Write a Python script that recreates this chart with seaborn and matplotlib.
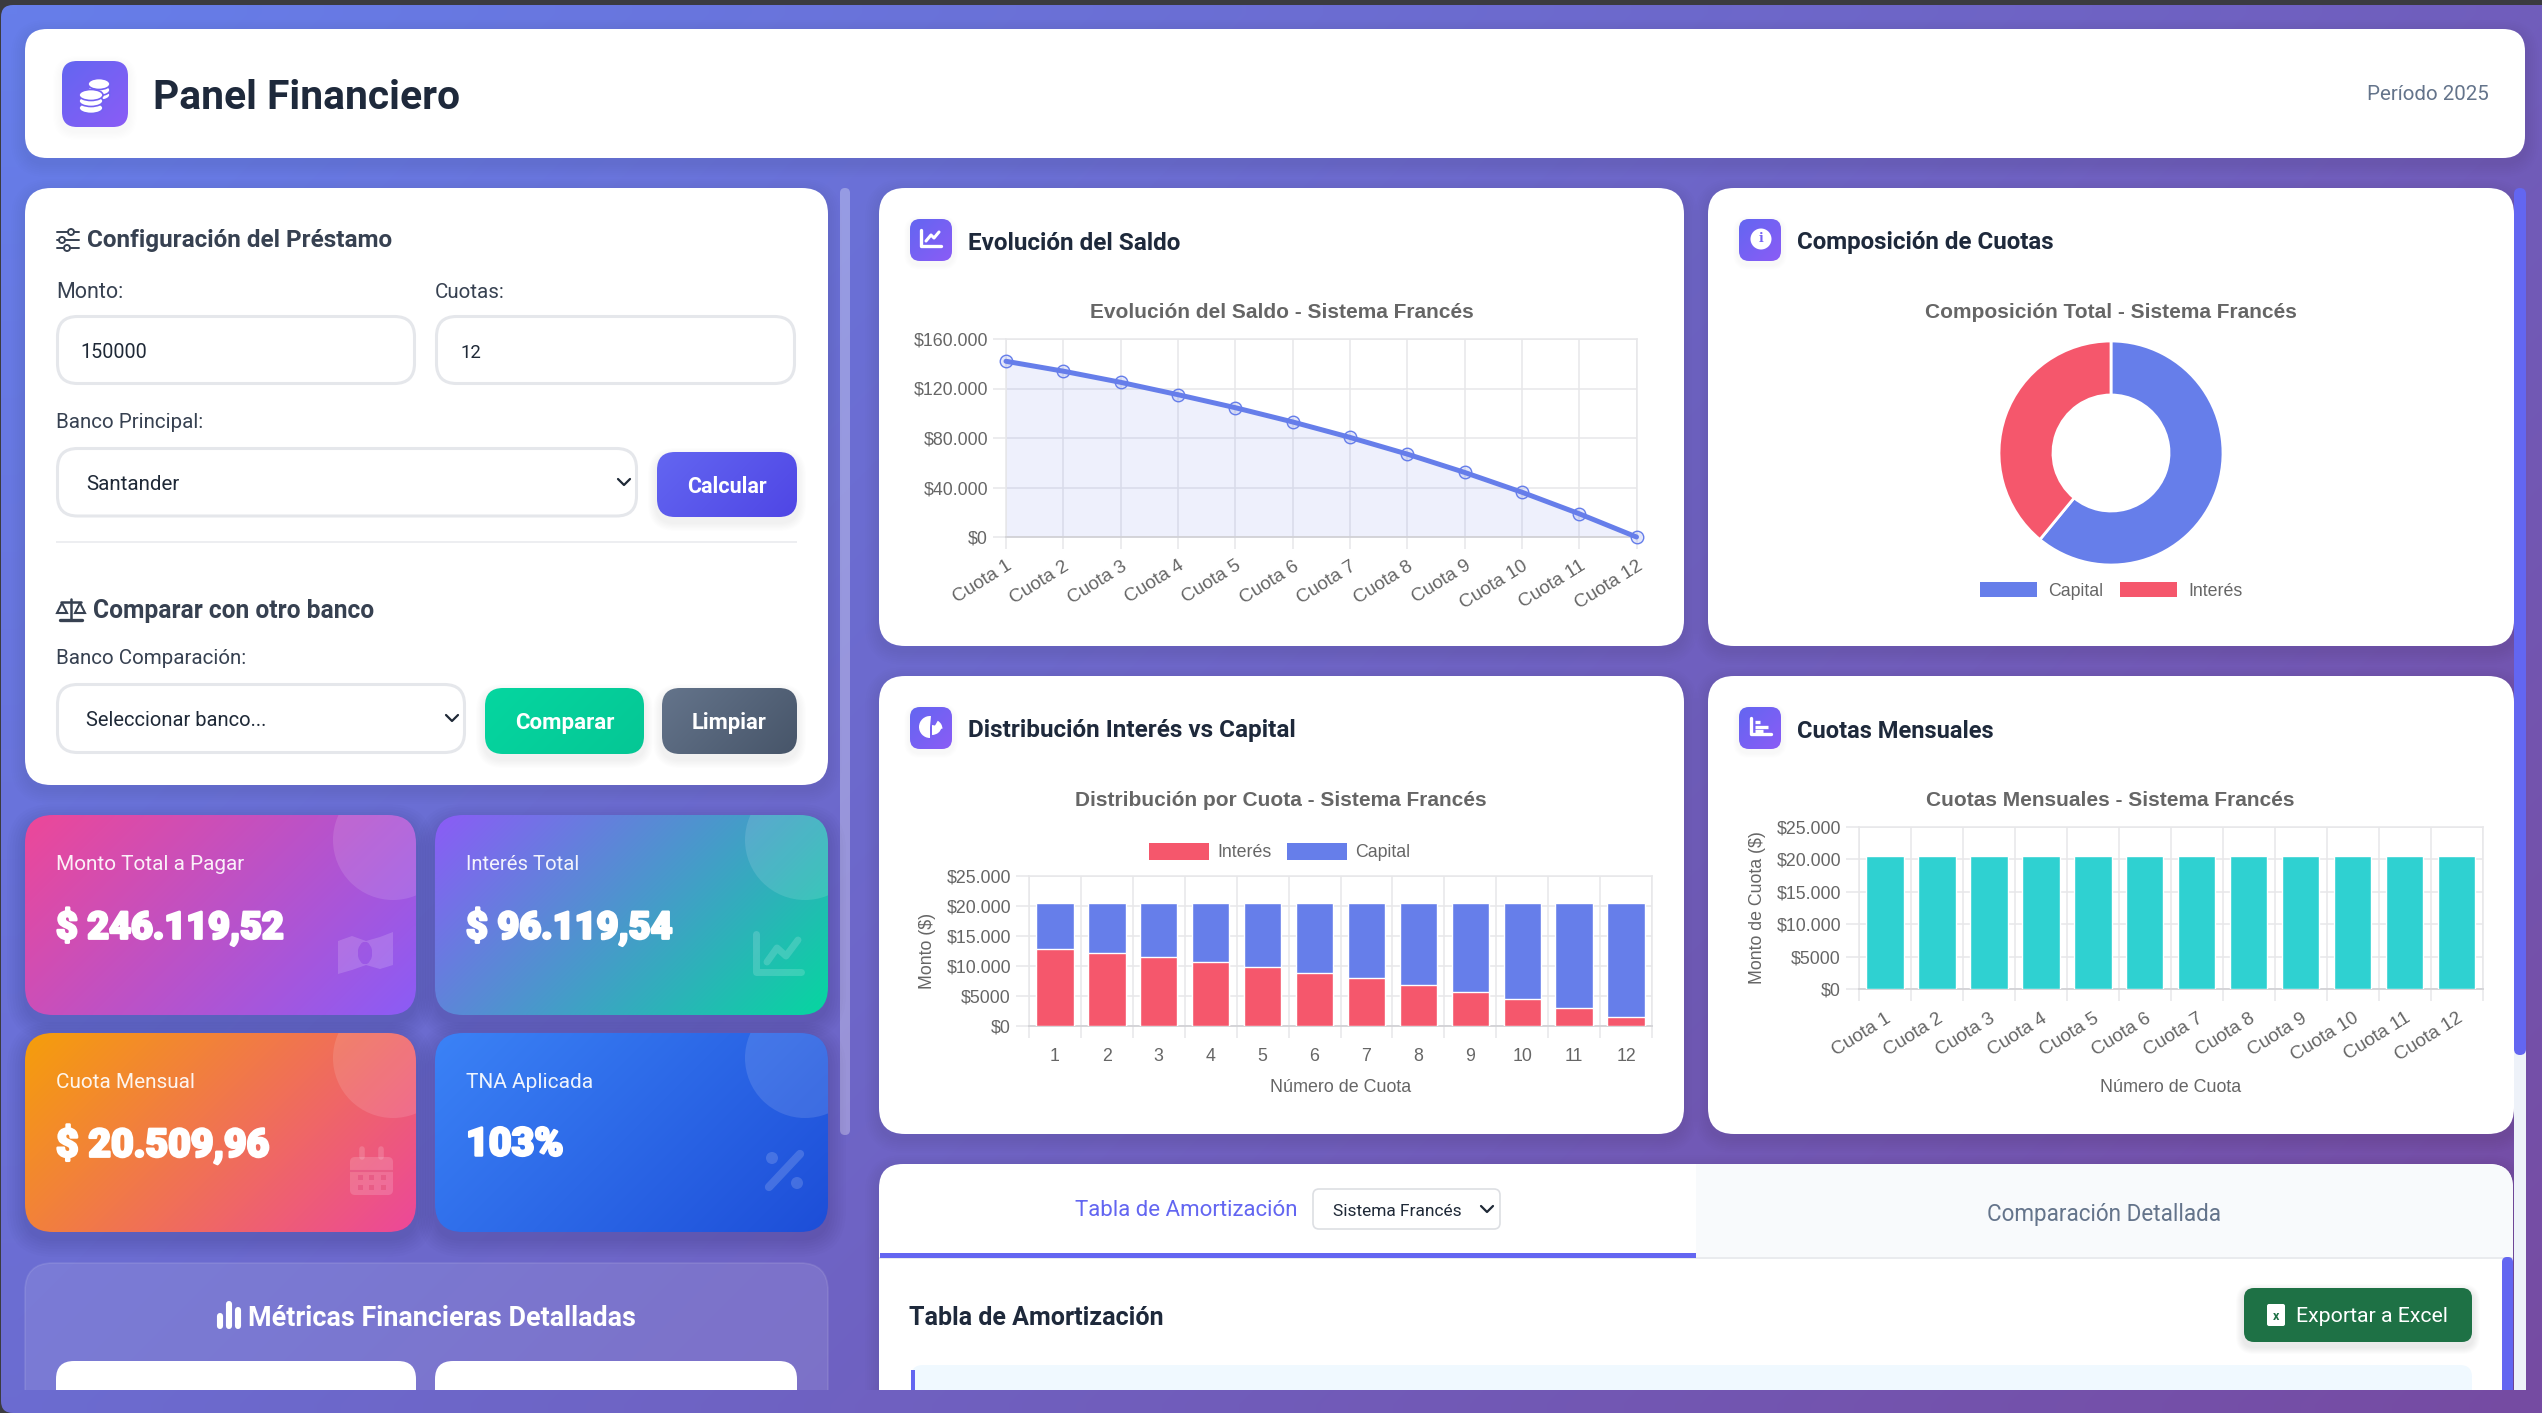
import itertools

import matplotlib
matplotlib.use("Agg")
import matplotlib.pyplot as plt
import matplotlib.patheffects as pe
import numpy as np
import pandas as pd
import seaborn as sns
from matplotlib.patches import Circle, Ellipse, FancyBboxPatch, PathPatch, Patch, Polygon, Rectangle, Wedge
from matplotlib.path import Path

# =========================
# DATA
# =========================
cuotas = ["Cuota %d" % i for i in range(1, 13)]
numeros = [str(i) for i in range(1, 13)]
saldo = [142000, 134000, 125000, 115000, 104500, 93000, 80500, 67000, 52200, 36200, 18800, 0]
interes = [12780, 12110, 11450, 10620, 9790, 8900, 7960, 6800, 5700, 4420, 2990, 1490]
capital = [7730, 8400, 9060, 9890, 10720, 11610, 12550, 13710, 14810, 16090, 17520, 19020]
cuota_mensual = [20510] * 12
composicion_labels = ["Capital", "Interés"]
composicion = [150000, 96119.54]

saldo_ticks = [0, 40000, 80000, 120000, 160000]
saldo_tick_labels = ["$0", "$40.000", "$80.000", "$120.000", "$160.000"]
monto_ticks = [0, 5000, 10000, 15000, 20000, 25000]
monto_tick_labels = ["$0", "$5000", "$10.000", "$15.000", "$20.000", "$25.000"]

AZUL = "#667eea"
ROJO = "#f5576c"
TURQUESA = "#2fd1d1"
GRID = "#e7e7e9"
ZERO = "#d2d2d6"
GRIS = "#666666"
UI = "Roboto"
CHART = "Liberation Sans"

W, H = 2542, 1413
CLIP_Y = 1390

sns.set_theme(style="white")
fig = plt.figure(figsize=(W / 100, H / 100), dpi=100, facecolor="#3b3b40")
canvas = fig.add_axes([0, 0, 1, 1], zorder=0)
canvas.set_xlim(0, W)
canvas.set_ylim(H, 0)
canvas.axis("off")
canvas.autoscale(False)
renderer = fig.canvas.get_renderer()
order = itertools.count(1)
clip_rect = Rectangle((0, 0), W, CLIP_Y, transform=canvas.transData)


def add(patch, clip=False):
    patch.set_zorder(next(order))
    canvas.add_patch(patch)
    if clip:
        patch.set_clip_path(clip_rect)
    return patch


def box(x0, y0, x1, y1, r, fc="white", ec="none", lw=0, clip=False):
    return add(FancyBboxPatch((x0, y0), x1 - x0, y1 - y0, boxstyle="round,pad=0,rounding_size=%s" % r,
                              fc=fc, ec=ec, lw=lw), clip)


def shadow(x0, y0, x1, y1, r, dy=5, spread=14, alpha=0.012, clip=False):
    for g in np.linspace(spread, 2, 7):
        box(x0 - g, y0 - g + dy, x1 + g, y1 + g + dy, r + g, fc=(0, 0, 0, alpha), clip=clip)


def grad_box(x0, y0, x1, y1, r, c0, c1):
    frame = box(x0, y0, x1, y1, r, fc="none")
    w, h = x1 - x0, y1 - y0
    xx, yy = np.meshgrid(np.linspace(0, w, 80), np.linspace(0, h, 80))
    t = (xx + yy) / (w + h)
    a, b = np.array(matplotlib.colors.to_rgb(c0)), np.array(matplotlib.colors.to_rgb(c1))
    img = a[None, None, :] * (1 - t[..., None]) + b[None, None, :] * t[..., None]
    im = canvas.imshow(img, extent=(x0, x1, y1, y0), origin="upper", aspect="auto",
                       interpolation="bilinear", zorder=next(order))
    im.set_clip_path(frame)
    canvas.set_xlim(0, W)
    canvas.set_ylim(H, 0)
    return im


def fit(t, width):
    t.set_fontsize(t.get_fontsize() * width / t.get_window_extent(renderer).width)
    return t


def put(x, y, s, x1=None, color="#1f2937", weight="normal", family=UI, ha="left", size=14, **kw):
    t = canvas.text(x, y + 4, s, color=color, fontweight=weight, family=family, ha=ha, va="center",
                    fontsize=size, zorder=100000, **kw)
    if x1 is not None:
        fit(t, x1 - x)
    return t


def centered(x0, x1, y, s, width, **kw):
    t = put((x0 + x1) / 2, y, s, ha="center", **kw)
    return fit(t, width)


def stroke(xs, ys, color="white", lw=2.0, alpha=1.0, cap="round"):
    canvas.plot(xs, ys, color=color, lw=lw, alpha=alpha, solid_capstyle=cap, solid_joinstyle="round",
                zorder=next(order))


def chevron(x, y, color="#1f2937"):
    stroke([x - 6, x, x + 6], [y - 3, y + 3, y - 3], color=color, lw=1.6)


def icon_box(x0, y0):
    shadow(x0, y0, x0 + 42, y0 + 42, 10, dy=3, spread=6, alpha=0.004)
    grad_box(x0, y0, x0 + 42, y0 + 42, 10, "#6366f1", "#8b5cf6")


# =========================
# PAGE
# =========================
grad_box(1, 5, W + 20, H, 12, "#667eea", "#764ba2")

# header
shadow(25, 29, 2525, 158, 22, alpha=0.008)
box(25, 29, 2525, 158, 22)
shadow(62, 61, 128, 127, 15, dy=4, spread=9, alpha=0.004)
grad_box(62, 61, 128, 127, 15, "#6366f1", "#8b5cf6")
for cx, ys, hw in [(99, (95, 90, 84), 11), (91, (108, 101, 95), 12)]:
    for y in ys:
        add(Ellipse((cx, y), hw * 2, 11, fc="white", ec="#7461f3", lw=1.2))
put(153, 94, "Panel Financiero", x1=460, color="#1e293b", weight="bold")
put(2489, 91, "Período 2025", color="#64748b", ha="right", size=15)
fit(canvas.texts[-1], 122)

# config card
shadow(25, 188, 828, 785, 26, alpha=0.008)
box(25, 188, 828, 785, 26)
for y, cx in [(232, 71), (240, 62), (248, 67)]:
    stroke([57, 79], [y, y], color="#374151", lw=1.4)
    add(Circle((cx, y), 3, fc="white", ec="#374151", lw=1.4))
put(87, 237, "Configuración del Préstamo", x1=393, color="#374151", weight="bold")

put(56, 288, "Monto:", x1=124, color="#374151")
put(435, 288, "Cuotas:", x1=505, color="#374151")
box(57.5, 316.5, 414.5, 383.5, 20, ec="#e5e7eb", lw=2.2)
box(436.5, 316.5, 794.5, 383.5, 20, ec="#e5e7eb", lw=2.2)
put(80, 349, "150000", x1=147, color="#1f2937")
put(460, 349, "12", x1=481, color="#1f2937")

put(56, 418, "Banco Principal:", x1=204, color="#374151")
box(57.5, 448.5, 636.5, 516, 20, ec="#e5e7eb", lw=2.2)
put(86, 481, "Santander", x1=180, color="#1f2937")
chevron(624, 482)
shadow(657, 452, 797, 517, 18, dy=5, spread=9, alpha=0.006)
grad_box(657, 452, 797, 517, 18, "#6366f1", "#4f46e5")
centered(657, 797, 483, "Calcular", 80, color="white", weight="bold")

stroke([56, 797], [542, 542], color="#e8eaee", lw=1.1, cap="butt")

# scale icon
stroke([71, 71], [599, 619], color="#374151", lw=1.8)
stroke([61, 81], [602, 602], color="#374151", lw=1.8)
stroke([60, 82], [620, 620], color="#374151", lw=2.4)
add(Polygon([[62, 603], [57, 613], [67, 613]], closed=True, fc="none", ec="#374151", lw=1.5))
add(Polygon([[80, 603], [75, 613], [85, 613]], closed=True, fc="none", ec="#374151", lw=1.5))
put(93, 607, "Comparar con otro banco", x1=375, color="#374151", weight="bold")

put(56, 655, "Banco Comparación:", x1=248, color="#374151")
box(57.5, 684.5, 464.5, 752.5, 20, ec="#e5e7eb", lw=2.2)
put(86, 717, "Seleccionar banco...", x1=268, color="#1f2937")
chevron(452, 718)
shadow(485, 688, 644, 754, 18, dy=5, spread=9, alpha=0.006)
grad_box(485, 688, 644, 754, 18, "#06d6a0", "#05c795")
centered(485, 644, 719, "Comparar", 99, color="white", weight="bold")
shadow(662, 688, 797, 754, 18, dy=5, spread=9, alpha=0.006)
grad_box(662, 688, 797, 754, 18, "#64748b", "#475569")
centered(662, 797, 719, "Limpiar", 75, color="white", weight="bold")

box(840, 188, 850, 1135, 5, fc=(1, 1, 1, 0.3))

# stat cards
tarjetas = [
    (25, 815, 416, 1015, "#ec4899", "#8b5cf6", "Monto Total a Pagar", 245, "$ 246.119,52", 284),
    (435, 815, 828, 1015, "#8b5cf6", "#06d6a0", "Interés Total", 580, "$ 96.119,54", 673),
    (25, 1033, 416, 1232, "#f59e0b", "#ec4899", "Cuota Mensual", 196, "$ 20.509,96", 270),
    (435, 1033, 828, 1232, "#3b82f6", "#1d4ed8", "TNA Aplicada", 593, "103%", 564),
]
for x0, y0, x1, y1, c0, c1, nombre, nombre_x1, valor, valor_x1 in tarjetas:
    shadow(x0, y0, x1, y1, 28, dy=7, spread=18, alpha=0.012)
    fondo = grad_box(x0, y0, x1, y1, 28, c0, c1)
    blob = add(Circle((x1 - 23, y0 + 25), 60, fc=(1, 1, 1, 0.12), ec="none"))
    blob.set_clip_path(fondo.get_clip_path(), matplotlib.transforms.IdentityTransform())
    put(x0 + 31, y0 + 46, nombre, x1=nombre_x1, color=(1, 1, 1, 0.92))
    put(x0 + 31, y0 + 108, valor, x1=valor_x1, color="white", weight="black",
        path_effects=[pe.withStroke(linewidth=1.8, foreground="white")])

FAINT = (1, 1, 1, 0.16)
# money icon
billete = np.array([[338, 941], [352, 936], [366, 941], [380, 937], [393, 932], [393, 965],
                    [380, 969], [366, 965], [352, 970], [338, 974], [338, 941]], float)
agujero = Path.unit_circle().transformed(
    matplotlib.transforms.Affine2D().scale(7, 11).translate(365, 953)).vertices[::-1]
add(PathPatch(Path.make_compound_path(Path(billete, closed=True), Path(agujero, closed=True)), fc=FAINT, ec="none"))
# chart icon
stroke([756, 756, 801], [934, 972, 972], color="white", lw=5, alpha=0.16)
stroke([767, 777, 786, 798], [962, 948, 956, 940], color="white", lw=5, alpha=0.16)
# calendar icon
box(350, 1157, 393, 1195, 5, fc=FAINT)
stroke([350, 393], [1171, 1171], color="#e85c86", lw=1.5, cap="butt")
stroke([362, 362], [1149, 1157], color="white", lw=4, alpha=0.16)
stroke([381, 381], [1149, 1157], color="white", lw=4, alpha=0.16)
for cx in (360, 371.5, 383):
    for cy in (1177, 1187):
        add(Rectangle((cx - 2.5, cy - 2.5), 5, 5, fc="#e85c86", ec="none"))
# percent icon
stroke([769, 800], [1187, 1154], color="white", lw=6, alpha=0.16)
add(Circle((772, 1158), 6, fc=FAINT, ec="none"))
add(Circle((797, 1183), 6, fc=FAINT, ec="none"))

# metrics panel
box(25, 1263, 828, CLIP_Y + 40, 28, fc=(1, 1, 1, 0.1), ec=(1, 1, 1, 0.1), lw=1.2, clip=True)
for i, cx in enumerate((220, 229, 238)):
    altura = [1316, 1304, 1310][i]
    stroke([cx, cx], [altura, 1326], color="white", lw=4.4)
put(248, 1314, "Métricas Financieras Detalladas", x1=636, color="white", weight="bold")
box(56, 1361, 416, CLIP_Y + 30, 18, clip=True)
box(435, 1361, 797, CLIP_Y + 30, 18, clip=True)

# white chart cards
tarjetas_chart = [
    (879, 188, 1684, 646, 910, 219, "Evolución del Saldo", 968, 1182, 239),
    (1708, 188, 2514, 646, 1739, 219, "Composición de Cuotas", 1797, 2056, 239),
    (879, 676, 1684, 1134, 910, 707, "Distribución Interés vs Capital", 968, 1296, 727),
    (1708, 676, 2514, 1134, 1739, 707, "Cuotas Mensuales", 1797, 1995, 727),
]
for x0, y0, x1, y1, ix, iy, titulo, tx0, tx1, ty in tarjetas_chart:
    shadow(x0, y0, x1, y1, 26, alpha=0.008)
    box(x0, y0, x1, y1, 26)
    icon_box(ix, iy)
    put(tx0, ty, titulo, x1=tx1, color="#1e293b", weight="bold")

# header icons of cards
stroke([921, 921, 941], [230, 246, 246], lw=2.4)
stroke([926, 931, 934, 939], [241, 235, 238, 232], lw=2.2)
add(Circle((1761, 239), 10.5, fc="white", ec="none"))
put(1761, 235, "i", color="#7461f3", weight="bold", ha="center", size=9, family="DejaVu Serif")
add(Wedge((930, 727), 11, 90, 275, fc="white", ec="none"))
add(Wedge((932, 725), 10, 10, 90, fc="white", ec="none"))
add(Wedge((933, 729), 9.5, 300, 358, fc="white", ec="none"))
stroke([1751, 1751, 1771], [718, 734, 734], lw=2.4)
for y, fin in [(722, 1760), (726.5, 1768), (731, 1763)]:
    stroke([1755, fin], [y, y], lw=2.4, cap="butt")

# bottom panel
shadow(879, 1164, 2513, 1440, 24, alpha=0.008, clip=True)
panel = box(879, 1164, 2513, 1440, 24, clip=True)
tab = add(Rectangle((1696, 1164), 817, 93, fc="#f8fafc", ec="none"))
tab.set_clip_path(panel.get_path(), panel.get_transform())
stroke([879, 2513], [1258, 1258], color="#e5e7eb", lw=1.2, cap="butt")
add(Rectangle((880, 1253), 816, 4.5, fc="#6366f1", ec="none"))
put(1075, 1207, "Tabla de Amortización", x1=1299, color="#6366f1")
box(1313, 1189, 1500, 1229, 6, ec="#dddfe3", lw=1.2)
put(1333, 1207, "Sistema Francés", x1=1463, color="#1f2937")
chevron(1487, 1209)
put(1987, 1210, "Comparación Detallada", x1=2223, color="#64748b")
put(909, 1314, "Tabla de Amortización", x1=1163, color="#1e293b", weight="bold")
shadow(2244, 1288, 2472, 1342, 10, dy=4, spread=8, alpha=0.012)
box(2244, 1288, 2472, 1342, 10, fc="#1e7145")
box(2267, 1304, 2285, 1326, 2, fc="white")
put(2276, 1313, "x", color="#1e7145", ha="center", size=9, weight="bold")
put(2296, 1312, "Exportar a Excel", x1=2448, color="white")
box(911, 1365, 2472, 1440, 12, fc="#f0f9ff", clip=True)
add(Rectangle((911, 1370), 4, 40, fc="#6366f1", ec="none"), clip=True)
box(2502, 1257, 2513, 1440, 5, fc="#6366f1", clip=True)

# outer scrollbar
add(Rectangle((2514, 1040), 12, CLIP_Y - 1040, fc="#eef2f9", ec="none"))
box(2514, 188, 2526, 1055, 6, fc="#6366f1")


# =========================
# CHARTS
# =========================
def chart_axes(x0, y0, x1, y1):
    ax = fig.add_axes([x0 / W, 1 - y1 / H, (x1 - x0) / W, (y1 - y0) / H], zorder=2)
    ax.patch.set_alpha(0)
    return ax


def style_axes(ax, ticks, tick_labels):
    ax.set_ylim(ticks[0], ticks[-1])
    ax.set_yticks(ticks)
    ax.set_yticklabels(tick_labels, family=CHART, color=GRIS, fontsize=12.8)
    ax.tick_params(axis="y", length=9.5, width=1.1, color=GRID, pad=3.5, left=True)
    ax.grid(True, axis="y", color=GRID, lw=1.1)
    ax.set_axisbelow(True)
    for nombre, spine in ax.spines.items():
        spine.set_color(ZERO if nombre == "bottom" else GRID)
        spine.set_linewidth(1.3 if nombre == "bottom" else 1.1)


def category_grid(ax):
    bordes = np.arange(len(cuotas) + 1) - 0.5
    ax.set_xticks(bordes, minor=True)
    ax.tick_params(axis="x", which="minor", length=8.8, width=1.1, color=GRID, bottom=True)
    ax.tick_params(axis="x", which="major", length=0)
    ax.grid(True, axis="x", which="minor", color=GRID, lw=1.1)


def chart_title(ax, box_px, cx, cy, texto, ancho):
    x0, y0, x1, y1 = box_px
    t = ax.set_title(texto, x=(cx - x0) / (x1 - x0), y=(y1 - cy) / (y1 - y0), va="center",
                     fontsize=14, fontweight="bold", family=CHART, color=GRIS, pad=0)
    fit(t, ancho)


def axis_labels(ax, box_px, xl=None, xl_c=None, xl_w=None, yl=None, yl_c=None, yl_h=None):
    x0, y0, x1, y1 = box_px
    if xl:
        t = ax.set_xlabel(xl, family=CHART, color=GRIS, fontsize=12.8, va="center")
        ax.xaxis.set_label_coords((xl_c[0] - x0) / (x1 - x0), (y1 - xl_c[1]) / (y1 - y0))
        fit(t, xl_w)
    else:
        ax.set_xlabel("")
    if yl:
        t = ax.set_ylabel(yl, family=CHART, color=GRIS, fontsize=12.8, va="center")
        ax.yaxis.set_label_coords((yl_c[0] - x0) / (x1 - x0), (y1 - yl_c[1]) / (y1 - y0))
    else:
        ax.set_ylabel("")


# Evolución del saldo
caja_a = (1006, 339, 1636.5, 537)
ax_a = chart_axes(*caja_a)
df_saldo = pd.DataFrame({"cuota": cuotas, "saldo": saldo})
sns.lineplot(data=df_saldo, x="cuota", y="saldo", ax=ax_a, sort=False, color=AZUL, lw=3.6, marker="o",
             markersize=9, markerfacecolor=(0.4, 0.49, 0.92, 0.18), markeredgecolor=AZUL,
             markeredgewidth=1.0, clip_on=False, zorder=5)
ax_a.fill_between(range(len(saldo)), saldo, color=AZUL, alpha=0.11, lw=0, zorder=1)
ax_a.set_xlim(0, len(cuotas) - 1)
style_axes(ax_a, saldo_ticks, saldo_tick_labels)
ax_a.grid(True, axis="x", color=GRID, lw=1.1)
ax_a.tick_params(axis="x", length=8.8, width=1.1, color=GRID, pad=6, bottom=True)
plt.setp(ax_a.get_xticklabels(), rotation=32, ha="right", va="top", rotation_mode="anchor",
         family=CHART, color=GRIS, fontsize=13.6)
axis_labels(ax_a, caja_a)
chart_title(ax_a, caja_a, 1282, 313, "Evolución del Saldo - Sistema Francés", 383)

# Composición
caja_b = (1999, 341, 2223, 565)
ax_b = chart_axes(*caja_b)
wedges, _ = ax_b.pie(composicion, colors=[AZUL, ROJO], startangle=90, counterclock=False, radius=1,
                     wedgeprops={"width": 0.482, "edgecolor": "white", "linewidth": 2})
ax_b.set_xlim(-1, 1)
ax_b.set_ylim(-1, 1)
for w in wedges:
    w.set_clip_on(False)
ax_b.text(0, (453 - 313) / 112, "Composición Total - Sistema Francés", ha="center", va="center",
          fontsize=14, fontweight="bold", family=CHART, color=GRIS)
fit(ax_b.texts[-1], 372.5)
ax_b.legend(handles=[Patch(fc=AZUL, ec="none", label=composicion_labels[0]),
                     Patch(fc=ROJO, ec="none", label=composicion_labels[1])],
            ncol=2, loc="center", bbox_to_anchor=(2111 / W, 1 - 591 / H), bbox_transform=fig.transFigure,
            frameon=False, prop={"family": CHART, "size": 12.8}, labelcolor=GRIS, handlelength=3.2,
            handleheight=0.85, handletextpad=0.62, columnspacing=0.96, borderpad=0)

# Distribución por cuota
caja_c = (1029, 876, 1652, 1026)
ax_c = chart_axes(*caja_c)
df_dist = pd.DataFrame({"numero": numeros, "interes": interes, "capital": capital})
df_dist["total"] = df_dist["interes"] + df_dist["capital"]
sns.barplot(data=df_dist, x="numero", y="total", ax=ax_c, color=AZUL, width=0.72, saturation=1, zorder=3)
sns.barplot(data=df_dist, x="numero", y="interes", ax=ax_c, color=ROJO, width=0.72, saturation=1, zorder=4)
ax_c.set_xlim(-0.5, 11.5)
style_axes(ax_c, monto_ticks, monto_tick_labels)
category_grid(ax_c)
ax_c.tick_params(axis="x", which="major", pad=16)
plt.setp(ax_c.get_xticklabels(), family=CHART, color=GRIS, fontsize=12.8)
axis_labels(ax_c, caja_c, "Número de Cuota", (1341, 1088), 140.5, "Monto ($)", (928, 951))
chart_title(ax_c, caja_c, 1281, 801, "Distribución por Cuota - Sistema Francés", 412)
ax_c.legend(handles=[Patch(fc=ROJO, ec="none", label="Interés"), Patch(fc=AZUL, ec="none", label="Capital")],
            ncol=2, loc="center", bbox_to_anchor=(1280 / W, 1 - 852 / H), bbox_transform=fig.transFigure,
            frameon=False, prop={"family": CHART, "size": 12.8}, labelcolor=GRIS, handlelength=3.35,
            handleheight=1.15, handletextpad=0.5, columnspacing=0.85, borderpad=0)

# Cuotas mensuales
caja_d = (1859, 827, 2482.5, 989)
ax_d = chart_axes(*caja_d)
df_cuota = pd.DataFrame({"cuota": cuotas, "monto": cuota_mensual})
sns.barplot(data=df_cuota, x="cuota", y="monto", ax=ax_d, color=TURQUESA, width=0.72, saturation=1, zorder=3)
ax_d.set_xlim(-0.5, 11.5)
style_axes(ax_d, monto_ticks, monto_tick_labels)
category_grid(ax_d)
ax_d.tick_params(axis="x", which="major", pad=15)
plt.setp(ax_d.get_xticklabels(), rotation=32, ha="right", va="top", rotation_mode="anchor",
         family=CHART, color=GRIS, fontsize=13.6)
axis_labels(ax_d, caja_d, "Número de Cuota", (2170.5, 1088), 141, "Monto de Cuota ($)", (1757, 908))
chart_title(ax_d, caja_d, 2110, 801, "Cuotas Mensuales - Sistema Francés", 369.5)

fig.savefig("out.png", dpi=100, facecolor=fig.get_facecolor())
plt.close(fig)
